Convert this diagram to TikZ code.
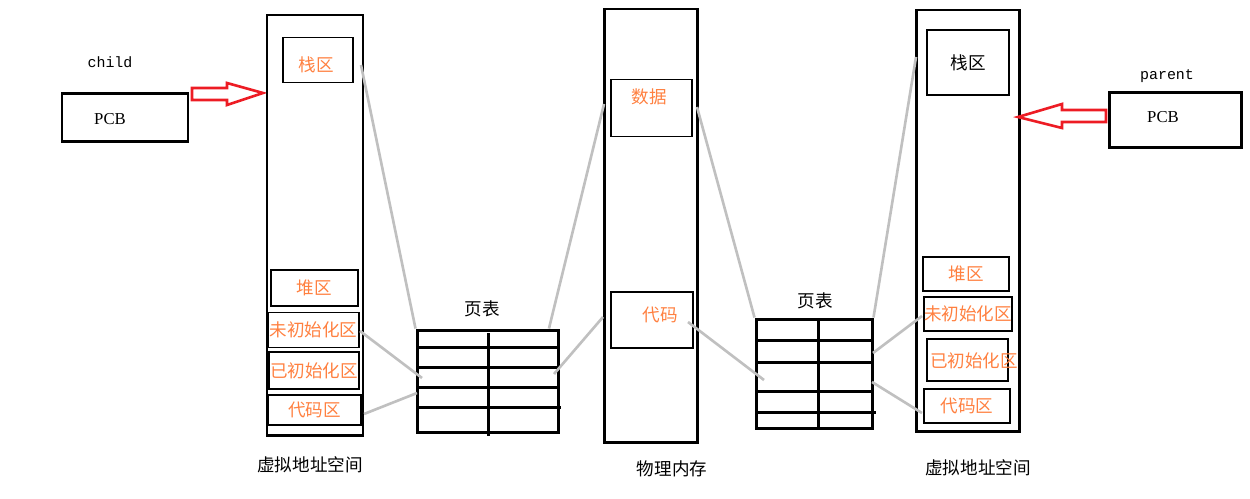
\documentclass[tikz,border=0pt]{standalone}
\usepackage{fontspec}
\setmainfont{Liberation Serif}
\newfontfamily\cjk{Noto Sans CJK SC}
\newfontfamily\mono{Liberation Mono}
\usetikzlibrary{positioning}
\definecolor{zoneorange}{RGB}{255,128,64}
\definecolor{mapgray}{RGB}{192,192,192}
\definecolor{pcbred}{RGB}{237,28,36}
\begin{document}
\begin{tikzpicture}[x=0.02cm,y=-0.02cm,font=\cjk\fontsize{10}{12}\selectfont,
    sz/.style 2 args={minimum width=#1*0.02cm,minimum height=#2*0.02cm},
    space/.style={draw,line width=1.7pt,inner sep=0pt},
    zone/.style={draw,line width=0.6pt,inner sep=0pt,text=zoneorange},
    gridline/.style={line width=1.7pt},
    map/.style={draw=mapgray,line width=1.5pt},
    hollow/.style={draw=pcbred,line width=1.5pt,line join=miter}]
    \useasboundingbox (0,0) rectangle (1250,498);
    %% Child process
    \node[space,sz={126}{48}] (lpcb) at (125,117) {};
    \node[font=\fontsize{9.5}{11}\selectfont] (lpcbt) at (110,119) {PCB};
    \node[font=\mono\fontsize{8.5}{10}\selectfont] (child) at (110,62) {child};
    \coordinate (ltip) at (263,93);
    \draw[hollow] (ltip) -- ++(-36,-10) -- ++(0,5) -- ++(-35,0) -- ++(0,12)
        -- ++(35,0) -- ++(0,5) -- cycle;
    %% Left virtual address space
    \node[space,sz={96}{420}] (lspace) at (315,225) {};
    \node[zone,sz={70}{45}] (lstack) at (318,60) {};
    \node[text=zoneorange] (lstackt) at (316,65) {栈区};
    \node[zone,sz={87}{36}] (lheap) at (314.5,288) {堆区};
    \node[zone,sz={91}{35}] (lbss) at (313.5,330) {未初始化区};
    \node[zone,sz={90}{37}] (ldata) at (314,370.5) {已初始化区};
    \node[zone,sz={93}{30}] (lcode) at (314.5,410) {代码区};
    \node (lvlabel) at (310,465) {虚拟地址空间};
    %% Left page table
    \node[space,sz={141}{102}] (lpt) at (487.5,381) {};
    \draw[gridline] (488,333) -- (488,436);
    \foreach \y in {347,367,387} \draw[gridline] (417,\y) -- (558,\y);
    \draw[gridline] (417,407) -- (561,407);
    \node (lptt) at (482,309) {页表};
    %% Physical memory
    \node[space,sz={93}{433}] (phys) at (650.5,225.5) {};
    \node[zone,sz={81}{57}] (pdata) at (651.5,108) {};
    \node[text=zoneorange] (pdatat) at (649,97) {数据};
    \node[zone,sz={82}{56}] (pcode) at (652,320) {};
    \node[text=zoneorange] (pcodet) at (660,315) {代码};
    \node (plabel) at (672,469) {物理内存};
    %% Right page table
    \node[space,sz={116}{109}] (rpt) at (814,373.5) {};
    \draw[gridline] (818,319) -- (818,428);
    \foreach \y in {340,362,391} \draw[gridline] (756,\y) -- (872,\y);
    \draw[gridline] (756,412) -- (876,412);
    \node (rptt) at (815,301) {页表};
    %% Right virtual address space
    \node[space,sz={103}{421}] (rspace) at (967.5,220.5) {};
    \node[zone,sz={82}{65},text=black] (rstack) at (968,62.5) {栈区};
    \node[zone,sz={86}{34}] (rheap) at (966,274) {堆区};
    \node[zone,sz={88}{34}] (rbss) at (968,314) {未初始化区};
    \node[zone,sz={81}{42}] (rdata) at (967.5,360) {};
    \node[text=zoneorange] (rdatat) at (974,361) {已初始化区};
    \node[zone,sz={86}{34}] (rcode) at (967,406) {代码区};
    \node (rvlabel) at (978,468) {虚拟地址空间};
    %% Parent process
    \node[space,sz={132}{55}] (rpcb) at (1175,119.5) {};
    \node[font=\fontsize{9.5}{11}\selectfont] (rpcbt) at (1163,117) {PCB};
    \node[font=\mono\fontsize{8.5}{10}\selectfont] (parent) at (1167,76) {parent};
    \coordinate (rtip) at (1018,117);
    \draw[hollow] (rtip) -- ++(44,-13) -- ++(0,6) -- ++(44,0) -- ++(0,12)
        -- ++(-44,0) -- ++(0,6) -- cycle;
    %% Mappings
    \coordinate (m1) at (361,65);
    \coordinate (m2) at (360,331);
    \coordinate (m3) at (364,414);
    \coordinate (m4) at (422,378);
    \coordinate (m5) at (417,393);
    \coordinate (m6) at (554,374);
    \coordinate (m7) at (604,104);
    \coordinate (m8) at (603,317);
    \coordinate (m9) at (697,107);
    \coordinate (m10) at (688,322);
    \coordinate (m11) at (764,380);
    \coordinate (m12) at (873,353);
    \coordinate (m13) at (872,382);
    \coordinate (m14) at (916,57);
    \coordinate (m15) at (922,316);
    \coordinate (m16) at (922,413);
    \draw[map] (m1) -- (lpt.north west);
    \draw[map] (m2) -- (m4);
    \draw[map] (m3) -- (m5);
    \draw[map] ([xshift=-6]lpt.north east) -- (m7);
    \draw[map] (m6) -- (m8);
    \draw[map] (m9) -- (rpt.north west);
    \draw[map] (m10) -- (m11);
    \draw[map] (rpt.north east) -- (m14);
    \draw[map] (m12) -- (m15);
    \draw[map] (m13) -- (m16);
\end{tikzpicture}
\end{document}
